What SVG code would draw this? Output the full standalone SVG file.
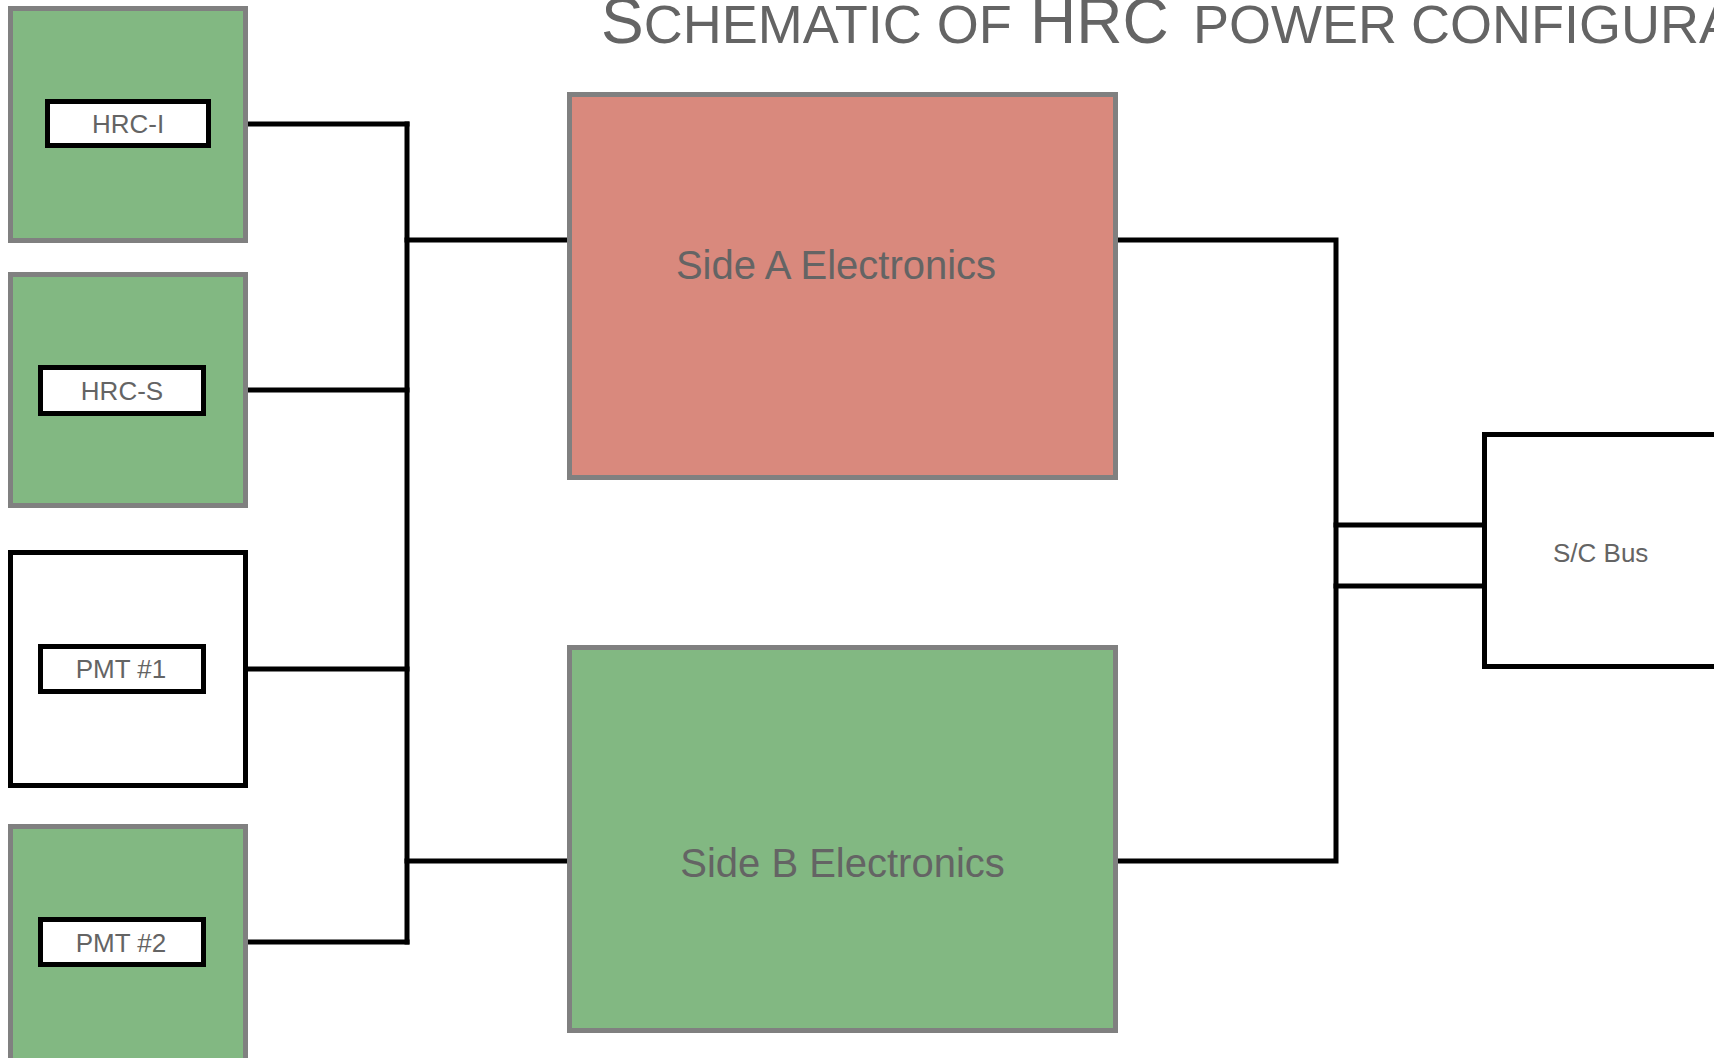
<svg xmlns="http://www.w3.org/2000/svg" width="1714" height="1058" viewBox="0 0 1714 1058">
<style>
  .green { fill: #82B882; stroke: #808080; stroke-width: 5; }
  .red { fill: #D9897D; stroke: #808080; stroke-width: 5; }
  .white { fill: #FFFFFF; stroke: #000000; stroke-width: 5; }
  .label { fill: #FFFFFF; stroke: #000000; stroke-width: 5; }
  .t { font-family: "Liberation Sans", Arial, sans-serif; fill: #646464; }
  .small { font-size: 26px; }
  .big { font-size: 40px; }
  .wire { fill: none; stroke: #000000; stroke-width: 5; stroke-linecap: square; }
</style>
<rect x="0" y="0" width="1714" height="1058" fill="#FFFFFF"/>

<g id="title">
  <text class="t" y="43" font-size="54"><tspan x="601" font-size="64">S</tspan><tspan>CHEMATIC OF</tspan><tspan x="1030" font-size="64">HRC</tspan><tspan x="1193">POWER</tspan><tspan x="1411">CONFIGURATION</tspan></text>
</g>

<g id="connectors">
  <path class="wire" d="M248,124 H407"/>
  <path class="wire" d="M248,390 H407"/>
  <path class="wire" d="M248,669 H407"/>
  <path class="wire" d="M248,942 H407"/>
  <path class="wire" d="M407,124 V942"/>
  <path class="wire" d="M407,240 H567"/>
  <path class="wire" d="M407,861 H567"/>
  <path class="wire" d="M1118,240 H1336 V861 H1118"/>
  <path class="wire" d="M1336,525 H1482"/>
  <path class="wire" d="M1336,586 H1482"/>
</g>

<g id="hrc-i">
  <rect class="green" x="10.5" y="8.5" width="235" height="232"/>
  <rect class="label" x="47.5" y="101.5" width="161" height="44"/>
  <text class="t small" x="128" y="133" text-anchor="middle">HRC-I</text>
</g>

<g id="hrc-s">
  <rect class="green" x="10.5" y="274.5" width="235" height="231"/>
  <rect class="label" x="40.5" y="367.5" width="163" height="46"/>
  <text class="t small" x="122" y="400" text-anchor="middle">HRC-S</text>
</g>

<g id="pmt1">
  <rect class="white" x="10.5" y="552.5" width="235" height="233"/>
  <rect class="label" x="40.5" y="646.5" width="163" height="45"/>
  <text class="t small" x="121" y="678" text-anchor="middle">PMT #1</text>
</g>

<g id="pmt2">
  <rect class="green" x="10.5" y="826.5" width="235" height="240"/>
  <rect class="label" x="40.5" y="919.5" width="163" height="45"/>
  <text class="t small" x="121" y="952" text-anchor="middle">PMT #2</text>
</g>

<g id="side-a">
  <rect class="red" x="569.5" y="94.5" width="546" height="383"/>
  <text class="t big" x="836" y="279" text-anchor="middle">Side A Electronics</text>
</g>

<g id="side-b">
  <rect class="green" x="569.5" y="647.5" width="546" height="383"/>
  <text class="t big" x="842.5" y="877" text-anchor="middle">Side B Electronics</text>
</g>

<g id="sc-bus">
  <rect class="white" x="1484.5" y="434.5" width="300" height="232"/>
  <text class="t small" x="1553" y="562">S/C Bus</text>
</g>
</svg>
